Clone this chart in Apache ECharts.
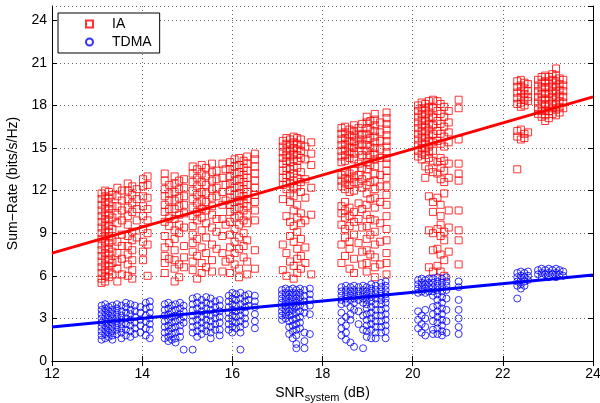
<!DOCTYPE html>
<html>
<head>
<meta charset="utf-8">
<script src="https://cdn.jsdelivr.net/npm/echarts@6/dist/echarts.min.js"></script>
<style>
html,body{margin:0;padding:0;background:#fff}
#main{width:600px;height:403px}
</style>
</head>
<body>
<div id="main"></div>
<script>
// IA scatter, one strip per SNR value: [x, [y...]]
var iaStrips = [
    [13.10, [11.8, 11.4, 11.0, 10.6, 10.2, 9.8, 9.4, 9.0, 8.6, 8.2, 7.8, 7.4, 7.0, 6.6, 6.2, 5.8, 5.5]],
    [13.18, [12.0, 11.6, 11.2, 10.8, 10.4, 10.0, 9.6, 9.2, 8.8, 8.4, 8.0, 7.6, 7.2, 6.8, 6.4, 6.0, 5.6]],
    [13.26, [11.9, 11.5, 11.1, 10.7, 10.3, 9.9, 9.5, 9.1, 8.7, 8.3, 7.9, 7.5, 7.1, 6.7, 6.3, 5.9]],
    [13.34, [11.7, 10.9, 10.1, 9.3, 8.5, 7.7, 6.9, 6.1]],
    [13.45, [12.2, 11.6, 10.9, 10.3, 9.7, 8.4, 7.6, 7.0, 6.5, 5.6]],
    [13.55, [12.0, 11.3, 10.6, 9.9, 8.9, 8.1, 7.2, 6.1]],
    [13.68, [12.5, 12.0, 11.4, 10.8, 10.2, 9.6, 8.8, 8.1, 7.5, 6.8, 6.0]],
    [13.78, [12.3, 11.7, 11.1, 10.5, 9.1, 8.5, 7.8, 7.1, 6.4, 5.8]],
    [13.88, [12.1, 11.4, 10.7, 9.9, 8.7]],
    [14.02, [12.8, 12.3, 11.6, 10.9, 10.2, 9.3, 8.4, 7.7, 7.1]],
    [14.12, [13.0, 12.4, 11.5, 10.7, 9.9, 9.0, 8.2, 6.0]],
    [14.50, [13.2, 12.7, 12.1, 11.6, 11.0, 10.5, 9.8, 8.8, 8.0, 7.4, 6.9, 6.2]],
    [14.60, [12.4, 11.8, 11.3, 10.7, 10.1, 9.5, 8.3, 7.2]],
    [14.72, [13.0, 12.5, 11.9, 11.3, 10.7, 10.0, 9.2, 8.6, 7.8, 7.1, 6.5, 5.6]],
    [14.82, [12.7, 12.1, 11.5, 10.9, 10.3, 9.6, 9.0, 6.8, 5.9]],
    [14.93, [12.8, 12.2, 11.6, 11.0, 10.4, 9.4, 8.1, 7.3, 6.6]],
    [15.12, [13.7, 13.2, 12.6, 12.0, 11.4, 10.8, 10.2, 9.5, 8.9, 8.3, 7.7, 7.0, 6.4]],
    [15.22, [13.5, 12.9, 12.3, 11.7, 11.1, 10.5, 9.9, 8.6, 7.4, 5.8]],
    [15.32, [13.8, 13.2, 12.6, 11.9, 11.3, 10.7, 10.1, 9.2, 8.0, 6.9, 6.2]],
    [15.42, [13.6, 13.0, 12.4, 11.8, 11.2, 10.6, 9.7, 8.7, 7.6, 6.6]],
    [15.55, [13.9, 13.3, 12.7, 12.1, 11.5, 10.9, 10.3, 9.4, 8.2, 7.1, 6.3]],
    [15.65, [13.4, 12.8, 12.2, 11.6, 10.0, 9.1, 7.9]],
    [15.78, [13.9, 12.9, 11.9, 11.0, 10.0, 8.8, 7.6, 6.3]],
    [15.85, [13.5, 12.4, 11.3, 9.6, 7.0]],
    [15.95, [14.0, 13.5, 13.0, 12.5, 12.0, 11.5, 11.0, 10.5, 9.8, 8.9, 8.0, 7.2, 6.2]],
    [16.05, [14.2, 13.7, 13.2, 12.7, 12.2, 11.7, 11.2, 10.7, 10.1, 9.3, 8.4, 7.6, 6.8]],
    [16.15, [14.3, 13.8, 13.3, 12.8, 12.3, 11.8, 11.3, 10.8, 10.2, 9.6, 8.7, 7.9, 6.5, 5.9]],
    [16.25, [14.1, 13.6, 13.1, 12.6, 12.1, 11.6, 11.1, 10.6, 9.9, 9.0, 8.1, 7.3]],
    [16.33, [14.4, 13.9, 13.4, 12.9, 12.4, 11.9, 11.4, 10.9, 10.3, 9.7, 8.5, 7.0, 6.1]],
    [16.50, [14.6, 14.2, 13.7, 13.2, 12.7, 12.2, 11.7, 11.2, 10.6, 9.9, 7.8, 6.5]],
    [17.12, [15.5, 15.1, 14.7, 14.3, 13.9, 13.4, 12.9, 12.4, 11.4, 8.2, 6.4]],
    [17.20, [15.7, 15.3, 14.9, 14.5, 14.1, 13.6, 13.1, 12.6, 12.1, 10.2, 7.6, 6.0]],
    [17.28, [15.6, 15.2, 14.8, 14.4, 14.0, 13.5, 13.0, 12.5, 11.8, 11.2, 9.8, 8.8, 7.0]],
    [17.36, [15.8, 15.4, 15.0, 14.6, 14.2, 13.7, 13.2, 12.7, 12.2, 11.6, 10.6, 9.5, 8.4, 6.7, 5.8]],
    [17.44, [15.7, 15.3, 14.9, 14.5, 14.1, 13.6, 12.9, 12.3, 11.0, 10.1, 9.1, 7.9, 7.2, 6.2]],
    [17.52, [15.6, 15.2, 14.8, 14.3, 13.3, 12.6, 11.9, 10.4, 9.7, 8.6, 7.4, 6.5]],
    [17.62, [15.1, 14.2, 12.8, 11.5, 9.9, 8.0, 6.9]],
    [17.75, [15.4, 14.6, 13.8, 12.2, 10.3, 6.1]],
    [18.42, [16.4, 16.0, 15.6, 15.2, 14.8, 14.4, 14.0, 13.1, 12.7, 12.3, 10.9, 10.4, 9.6, 8.2, 6.9]],
    [18.50, [16.5, 16.1, 15.7, 15.3, 14.9, 14.5, 14.1, 13.3, 12.9, 12.5, 12.1, 11.2, 10.6, 10.1, 9.3, 8.7, 7.4]],
    [18.60, [16.3, 15.9, 15.5, 15.1, 14.7, 14.3, 13.2, 12.8, 12.4, 11.9, 10.8, 10.2, 9.5, 8.4, 7.9, 6.5]],
    [18.70, [16.6, 16.2, 15.8, 15.4, 15.0, 14.6, 14.2, 13.4, 13.0, 12.6, 12.0, 10.5, 9.8, 8.9, 7.2, 6.2]],
    [18.80, [16.4, 16.0, 15.6, 15.2, 14.8, 13.9, 13.1, 12.5, 11.1, 10.0, 8.3]],
    [18.88, [16.7, 15.9, 15.3, 14.5, 13.6, 12.8, 12.2, 10.7, 9.4, 7.7, 6.8]],
    [18.98, [17.2, 16.8, 16.4, 16.0, 15.6, 15.2, 14.8, 14.4, 14.0, 13.5, 13.0, 12.4, 11.8, 11.0, 10.3, 9.5, 8.6, 7.8, 6.9, 6.3]],
    [19.06, [16.9, 16.3, 15.7, 15.1, 14.5, 13.8, 12.6, 11.4, 10.0, 8.9, 7.5]],
    [19.16, [17.4, 17.0, 16.6, 16.2, 15.8, 15.4, 15.0, 14.6, 14.2, 13.7, 13.2, 12.7, 12.1, 11.5, 10.8, 9.9, 9.1, 8.2, 7.3, 6.6, 5.9]],
    [19.28, [16.8, 16.1, 15.5, 14.9, 14.3, 13.1, 12.3, 11.2, 9.7, 8.4, 6.8]],
    [19.42, [17.5, 17.1, 16.7, 16.3, 15.9, 15.5, 15.1, 14.7, 14.3, 13.9, 13.4, 12.9, 12.3, 11.7, 11.0, 10.2, 9.3, 8.5, 7.6, 6.9, 6.1]],
    [20.12, [18.0, 17.6, 17.2, 16.8, 16.4, 16.0, 15.6, 15.2, 14.8, 14.4]],
    [20.20, [18.2, 17.8, 17.4, 17.0, 16.6, 16.2, 15.8, 15.4, 15.0, 14.6, 14.2]],
    [20.28, [18.1, 17.7, 17.3, 16.9, 16.5, 16.1, 15.7, 15.3, 14.9, 14.5, 13.7, 12.9]],
    [20.36, [18.3, 17.9, 17.5, 17.1, 16.7, 16.3, 15.9, 15.5, 15.1, 14.7, 14.3, 13.5, 11.6, 9.2, 6.6]],
    [20.45, [18.4, 17.8, 17.2, 16.6, 16.0, 15.4, 14.8, 14.1, 13.3, 11.2, 10.5, 9.0, 7.8, 6.3]],
    [20.55, [18.3, 17.6, 16.9, 16.2, 15.5, 14.0, 13.2, 11.5, 9.3, 7.9, 6.7]],
    [20.62, [18.1, 17.4, 16.7, 16.0, 15.3, 14.3, 13.6, 12.8, 11.0, 10.2, 9.6, 8.8, 7.5, 6.3]],
    [20.70, [17.9, 17.2, 16.5, 15.8, 15.1, 14.1, 13.4, 12.6, 11.8, 9.1, 8.5, 7.1, 6.0]],
    [20.80, [17.6, 16.8, 16.1, 15.4, 13.9, 12.9, 10.6, 9.4, 7.7]],
    [21.02, [18.4, 17.8, 15.6, 13.9, 13.2, 12.7, 10.6, 9.2, 8.5, 6.8]],
    [22.32, [19.7, 19.3, 18.9, 18.5, 18.1, 16.2, 15.8, 13.5]],
    [22.40, [19.8, 19.4, 19.0, 18.6, 18.2, 17.9, 16.3, 15.6]],
    [22.48, [19.6, 19.2, 18.8, 18.4, 18.0, 16.0, 15.7]],
    [22.56, [19.5, 19.0, 18.6, 18.3, 16.1]],
    [22.78, [19.8, 19.4, 19.0, 18.6, 18.2, 17.8, 17.4]],
    [22.86, [20.0, 19.6, 19.2, 18.8, 18.4, 18.0, 17.6, 17.2]],
    [22.94, [20.1, 19.7, 19.3, 18.9, 18.5, 18.1, 17.7, 17.3, 16.9]],
    [23.02, [20.0, 19.6, 19.2, 18.8, 18.4, 18.0, 17.6, 17.1]],
    [23.10, [20.2, 19.8, 19.4, 19.0, 18.6, 18.2, 17.8, 17.4]],
    [23.18, [20.6, 20.1, 19.7, 19.3, 18.9, 18.5, 18.1, 17.7, 17.3]],
    [23.26, [19.9, 19.5, 19.1, 18.7, 18.3, 17.9, 17.5]],
    [23.34, [19.8, 19.4, 19.0, 18.6, 18.2, 17.8]]
];

// TDMA scatter
var tdmaStrips = [
    [13.10, [3.9, 3.6, 3.3, 3.0, 2.7, 2.4, 2.1, 1.8, 1.5]],
    [13.18, [4.0, 3.7, 3.4, 3.1, 2.8, 2.5, 2.2, 1.9, 1.6]],
    [13.26, [3.8, 3.5, 3.2, 2.9, 2.6, 2.3, 2.0, 1.7]],
    [13.34, [3.9, 3.6, 3.3, 3.0, 2.7, 2.4, 2.1, 1.8, 1.5]],
    [13.44, [4.0, 3.7, 3.4, 3.1, 2.8, 2.5, 2.2, 1.9]],
    [13.54, [3.9, 3.5, 3.2, 2.9, 2.6, 2.3, 2.0, 1.6]],
    [13.64, [4.1, 3.8, 3.4, 3.0, 2.6, 2.2, 1.8]],
    [13.74, [4.0, 3.6, 3.3, 2.9, 2.5, 2.1, 1.7]],
    [13.84, [3.9, 3.5, 3.1, 2.7, 2.3, 1.9]],
    [13.96, [3.8, 3.4, 2.9, 2.5, 2.0]],
    [14.08, [4.1, 3.7, 3.2, 2.8, 2.3, 1.8]],
    [14.17, [4.2, 3.8, 3.4, 3.0, 2.6, 2.2, 1.6]],
    [14.50, [4.0, 3.6, 3.2, 2.8, 2.4, 2.0, 1.6]],
    [14.58, [4.1, 3.7, 3.3, 2.9, 2.5, 2.1, 1.7, 1.4]],
    [14.66, [3.9, 3.5, 3.1, 2.7, 2.3, 1.9, 1.5]],
    [14.74, [4.0, 3.6, 3.2, 2.8, 2.4, 2.0, 1.6, 1.3]],
    [14.84, [4.1, 3.7, 3.3, 2.9, 2.5, 2.1, 1.7]],
    [14.92, [3.9, 3.5, 3.1, 2.7, 0.8]],
    [15.12, [4.4, 4.0, 3.6, 3.2, 2.8, 2.4, 2.0, 0.8]],
    [15.22, [4.5, 4.1, 3.7, 3.3, 2.9, 2.5, 2.1, 1.7]],
    [15.32, [4.3, 3.9, 3.5, 3.1, 2.7, 2.3, 1.9]],
    [15.42, [4.5, 4.1, 3.7, 3.3, 2.9, 2.5, 2.1]],
    [15.52, [4.4, 4.0, 3.6, 3.2, 2.8, 2.4, 2.0, 1.6]],
    [15.62, [4.2, 3.8, 3.4, 3.0, 2.6, 2.2]],
    [15.72, [4.3, 3.9, 3.5, 3.1, 2.7, 2.2, 1.8]],
    [15.92, [4.6, 4.2, 3.8, 3.4, 3.0, 2.6, 2.2]],
    [16.00, [4.8, 4.4, 4.0, 3.6, 3.2, 2.8, 2.4, 2.0]],
    [16.08, [4.7, 4.3, 3.9, 3.5, 3.1, 2.7, 2.3]],
    [16.18, [4.8, 4.4, 4.0, 3.6, 3.2, 2.8, 2.4, 2.0, 0.8]],
    [16.28, [4.6, 4.2, 3.8, 3.4, 3.0, 2.6]],
    [16.36, [4.7, 4.3, 3.9]],
    [16.50, [4.6, 4.2, 3.8, 3.3, 2.8, 2.3]],
    [17.10, [5.0, 4.7, 4.4, 4.1, 3.8, 3.5, 3.2, 2.9]],
    [17.18, [5.1, 4.8, 4.5, 4.2, 3.9, 3.6, 3.3, 3.0]],
    [17.26, [5.0, 4.7, 4.4, 4.1, 3.8, 3.5, 3.2, 2.8, 2.4, 1.9]],
    [17.34, [5.1, 4.8, 4.5, 4.2, 3.9, 3.6, 3.3, 2.9, 2.5, 2.1, 1.6]],
    [17.42, [5.0, 4.7, 4.4, 4.1, 3.8, 3.4, 3.0, 2.6, 2.2, 1.8, 1.2, 0.9]],
    [17.50, [5.1, 4.8, 4.5, 4.2, 3.9, 3.5, 3.1, 2.7, 2.3]],
    [17.60, [5.0, 4.6, 4.2, 3.8, 3.4, 2.0, 1.4, 0.9]],
    [17.72, [5.1, 4.7, 4.3, 3.9, 3.3, 1.9]],
    [18.42, [5.2, 4.9, 4.6, 4.3, 4.0, 3.4, 2.8, 2.3, 1.8]],
    [18.52, [5.3, 5.0, 4.7, 4.4, 4.1, 3.1, 2.5, 2.0, 1.5]],
    [18.62, [5.2, 4.9, 4.6, 4.3, 3.8, 3.3, 2.9, 1.3]],
    [18.70, [5.3, 5.0, 4.7, 4.4, 4.1, 3.6, 1.0]],
    [18.80, [5.2, 4.9, 4.6, 4.3, 3.5, 2.6]],
    [18.90, [5.3, 5.0, 4.7, 4.4, 4.1, 3.2, 2.2, 0.9]],
    [18.98, [5.2, 4.9, 4.6, 4.3, 4.0, 3.7, 3.3, 2.9, 2.5, 2.1, 1.7]],
    [19.08, [5.4, 5.1, 4.8, 4.5, 4.2, 3.8, 3.4, 3.0, 2.6, 2.2, 1.6]],
    [19.18, [5.3, 5.0, 4.7, 4.4, 4.0, 3.6, 3.2, 2.8, 2.4, 2.0, 1.6]],
    [19.30, [5.5, 5.2, 4.9, 4.6, 4.3, 4.0, 3.6, 3.2, 2.8, 2.4, 2.0]],
    [19.40, [5.6, 5.3, 5.0, 4.7, 4.4, 4.1, 3.7, 3.3, 2.9, 2.5, 2.1, 1.6]],
    [20.12, [5.7, 5.4, 5.1, 4.8, 3.5, 2.9, 2.3]],
    [20.20, [5.8, 5.5, 5.2, 4.9, 3.2, 2.6, 2.0]],
    [20.28, [5.7, 5.4, 5.1, 4.8, 3.6, 3.0, 2.4, 1.8]],
    [20.36, [5.8, 5.5, 5.2, 4.9]],
    [20.45, [5.8, 5.5, 5.2, 4.9, 4.6, 3.8, 3.3, 2.8, 2.2, 1.9]],
    [20.55, [5.9, 5.6, 5.3, 5.0, 4.7, 4.3, 3.9, 3.5, 3.1, 2.7, 2.3, 1.9]],
    [20.65, [5.8, 5.5, 5.2, 4.9, 4.5, 4.1, 3.7, 3.3, 2.9, 2.5, 2.1, 1.8]],
    [20.75, [5.9, 5.6, 5.3, 5.0, 4.4, 3.6, 2.8, 2.0]],
    [21.02, [5.6, 5.2, 4.3, 3.6, 3.0, 2.4, 1.9]],
    [22.32, [6.2, 5.9, 5.6, 5.3, 4.4]],
    [22.40, [6.3, 6.0, 5.7, 5.4, 5.1]],
    [22.48, [6.2, 5.9, 5.6, 5.3]],
    [22.56, [6.3, 6.0, 5.7]],
    [22.78, [6.4, 6.1]],
    [22.86, [6.5, 6.2, 5.9]],
    [22.94, [6.4, 6.1]],
    [23.02, [6.5, 6.2, 5.9]],
    [23.10, [6.4, 6.1]],
    [23.18, [6.5, 6.2, 5.9]],
    [23.26, [6.4, 6.1]],
    [23.34, [6.3, 6.0]]
];

// least-squares fit lines (end points)
var iaFit = [[12, 7.6], [24, 18.6]];
var tdmaFit = [[12, 2.4], [24, 6.05]];

function stripsToPoints(strips) {
    var out = [];
    for (var i = 0; i < strips.length; i++) {
        for (var j = 0; j < strips[i][1].length; j++) {
            out.push([strips[i][0], strips[i][1][j]]);
        }
    }
    return out;
}

var myChart = echarts.init(document.getElementById('main'));
var font = 'Liberation Sans, Arial, Helvetica, sans-serif';
var dotted = {color: '#666', width: 1, type: [1, 3]};

var option = {
    animation: false,
    backgroundColor: '#fff',
    textStyle: {fontFamily: font},
    grid: {left: 52, right: 7, top: 6, bottom: 42, containLabel: false, outerBoundsMode: 'none'},
    legend: {
        data: [{name: 'IA', icon: 'rect'}, {name: 'TDMA', icon: 'circle'}],
        orient: 'vertical',
        left: 58,
        top: 13,
        backgroundColor: '#fff',
        borderColor: '#000',
        borderWidth: 1,
        borderRadius: 0,
        padding: [4, 8, 4, 27],
        itemGap: 4,
        itemWidth: 7,
        itemHeight: 7,
        textStyle: {fontSize: 14, color: '#000', padding: [0, 0, 0, 14]}
    },
    xAxis: [{
        type: 'value', min: 12, max: 24, interval: 2,
        position: 'bottom',
        axisLine: {show: true, lineStyle: {color: '#000', width: 1}},
        axisTick: {show: true, inside: true, length: 5, lineStyle: {color: '#000'}},
        axisLabel: {color: '#000', fontSize: 14, margin: 6},
        splitLine: {show: true, lineStyle: dotted},
        name: '{a|SNR}{b|system}{a| (dB)}',
        nameLocation: 'middle',
        nameGap: 18,
        nameTextStyle: {
            rich: {
                a: {fontSize: 14, color: '#000', lineHeight: 18, verticalAlign: 'top'},
                b: {fontSize: 11, color: '#000', lineHeight: 18, verticalAlign: 'bottom', padding: [6, 0, 0, 0]}
            }
        }
    }, {
        type: 'value', min: 12, max: 24, interval: 2,
        position: 'top',
        axisLine: {show: true, lineStyle: {color: '#000', width: 1}},
        axisTick: {show: true, inside: true, length: 5, lineStyle: {color: '#000'}},
        axisLabel: {show: false},
        splitLine: {show: false}
    }],
    yAxis: [{
        type: 'value', min: 0, max: 25, interval: 3,
        position: 'left',
        axisLine: {show: true, lineStyle: {color: '#000', width: 1}},
        axisTick: {show: true, inside: true, length: 5, lineStyle: {color: '#000'}},
        axisLabel: {color: '#000', fontSize: 14, margin: 5, showMaxLabel: false},
        splitLine: {show: true, lineStyle: dotted},
        name: 'Sum\u2212Rate (bits/s/Hz)',
        nameLocation: 'middle',
        nameGap: 31,
        nameTextStyle: {fontSize: 14, color: '#000'}
    }, {
        type: 'value', min: 0, max: 25, interval: 3,
        position: 'right',
        axisLine: {show: true, lineStyle: {color: '#000', width: 1}},
        axisTick: {show: true, inside: true, length: 5, lineStyle: {color: '#000'}},
        axisLabel: {show: false},
        splitLine: {show: false}
    }],
    series: [
        {
            name: 'IA',
            type: 'scatter',
            symbol: 'rect',
            symbolSize: 7,
            data: stripsToPoints(iaStrips),
            itemStyle: {color: 'rgba(255,255,255,0)', borderColor: '#ff0000', borderWidth: 1}
        },
        {
            name: 'TDMA',
            type: 'scatter',
            symbol: 'circle',
            symbolSize: 7,
            data: stripsToPoints(tdmaStrips),
            itemStyle: {color: 'rgba(255,255,255,0)', borderColor: '#0000ff', borderWidth: 1}
        },
        {
            name: 'IA fit',
            type: 'line',
            data: iaFit,
            symbol: 'none',
            lineStyle: {color: '#ff0000', width: 3},
            z: 5
        },
        {
            name: 'TDMA fit',
            type: 'line',
            data: tdmaFit,
            symbol: 'none',
            lineStyle: {color: '#0000ff', width: 3},
            z: 5
        }
    ]
};

myChart.setOption(option);
</script>
</body>
</html>
